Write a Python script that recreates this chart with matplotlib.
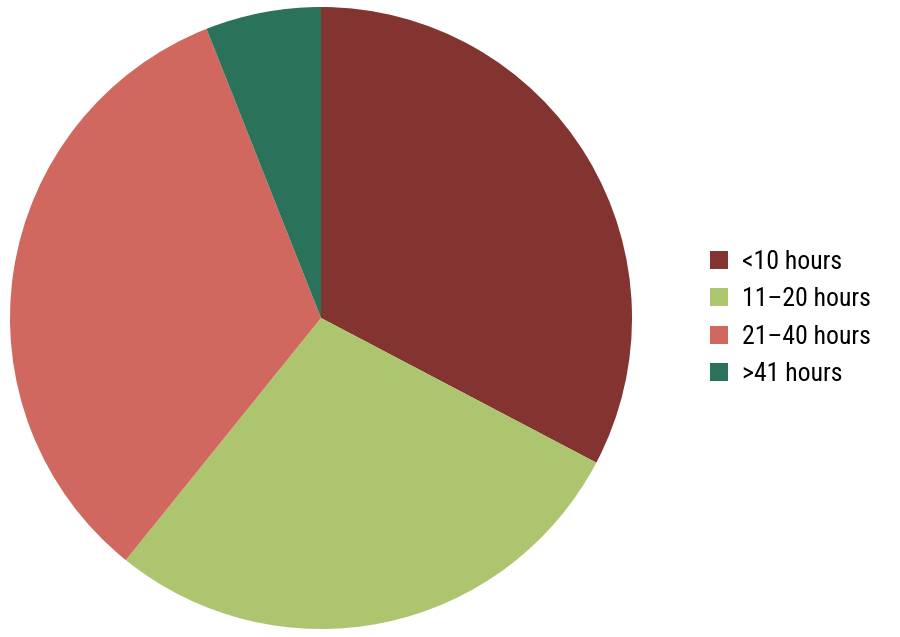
import matplotlib.pyplot as plt
from matplotlib.patches import Patch

# DATA
# -----------------------------------------------
labels = ["<10 hours", "11\u201320 hours", "21\u201340 hours", ">41 hours"]
shares = [32.7, 28.1, 33.2, 6.0]
colors = ["#833330", "#adc56f", "#d06860", "#2a7259"]

plt.rcParams["font.family"] = ["Roboto Condensed", "Liberation Sans Narrow", "Roboto", "DejaVu Sans"]

# PLOT
# -----------------------------------------------
fig = plt.figure(figsize=(9, 6.37), dpi=100)
ax = fig.add_axes([10 / 900, 8 / 637, 622 / 900, 622 / 637])

ax.pie(shares, colors=colors, startangle=90, counterclock=False,
       radius=1.0, wedgeprops=dict(linewidth=0))
ax.set_aspect("equal")
ax.set_xlim(-1, 1)
ax.set_ylim(-1, 1)
ax.axis("off")

handles = [Patch(facecolor=c, edgecolor="none") for c in colors]
fig.legend(handles, labels, loc="center left", bbox_to_anchor=(710 / 900, 319 / 637),
           frameon=False, fontsize=18.5, handlelength=0.7, handleheight=0.7,
           handletextpad=0.55, labelspacing=0.52, borderpad=0, borderaxespad=0)

fig.savefig("out.png", dpi=100)
